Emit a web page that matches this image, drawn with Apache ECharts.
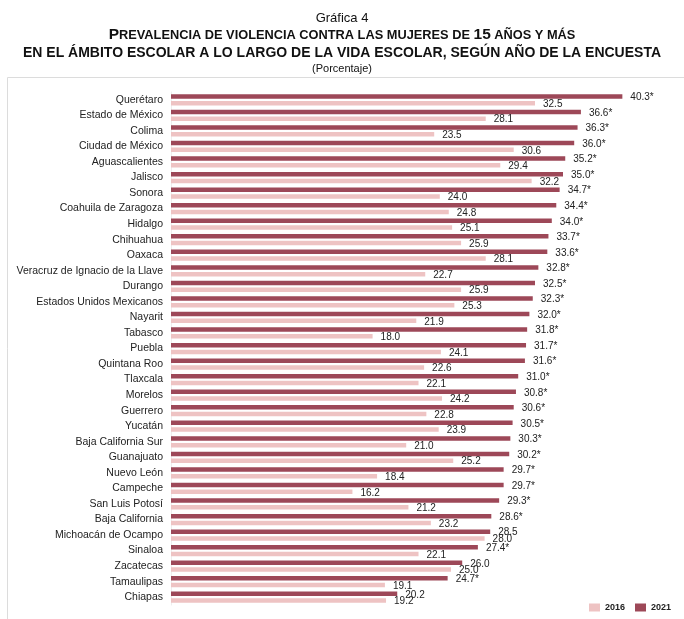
<!DOCTYPE html>
<html>
<head>
<meta charset="utf-8">
<script src="https://cdn.jsdelivr.net/npm/echarts@6/dist/echarts.min.js"></script>
<style>
html,body{margin:0;padding:0;background:#fff;}
#chart{width:684px;height:619px;}
</style>
</head>
<body>
<div id="chart"></div>
<script>
const categories = ["Querétaro","Estado de México","Colima","Ciudad de México","Aguascalientes","Jalisco","Sonora","Coahuila de Zaragoza","Hidalgo","Chihuahua","Oaxaca","Veracruz de Ignacio de la Llave","Durango","Estados Unidos Mexicanos","Nayarit","Tabasco","Puebla","Quintana Roo","Tlaxcala","Morelos","Guerrero","Yucatán","Baja California Sur","Guanajuato","Nuevo León","Campeche","San Luis Potosí","Baja California","Michoacán de Ocampo","Sinaloa","Zacatecas","Tamaulipas","Chiapas"];
const values2016 = [32.5,28.1,23.5,30.6,29.4,32.2,24.0,24.8,25.1,25.9,28.1,22.7,25.9,25.3,21.9,18.0,24.1,22.6,22.1,24.2,22.8,23.9,21.0,25.2,18.4,16.2,21.2,23.2,28.0,22.1,25.0,19.1,19.2];
const values2021 = [40.3,36.6,36.3,36.0,35.2,35.0,34.7,34.4,34.0,33.7,33.6,32.8,32.5,32.3,32.0,31.8,31.7,31.6,31.0,30.8,30.6,30.5,30.3,30.2,29.7,29.7,29.3,28.6,28.5,27.4,26.0,24.7,20.2];
const significant2021 = [1,1,1,1,1,1,1,1,1,1,1,1,1,1,1,1,1,1,1,1,1,1,1,1,1,1,1,1,0,1,0,1,0];
const seriesNames = ["2016","2021"];

const chart = echarts.init(document.getElementById('chart'), null, {renderer:'canvas'});
const FONT = '"Liberation Sans", Arial, sans-serif';
const option = {
  backgroundColor: '#fff',
  animation: false,
  graphic: [{
    type: 'rect', shape: {x: 7.5, y: 77.5, width: 700, height: 600},
    style: {fill: 'none', stroke: '#dcdcdc', lineWidth: 1}, silent: true
  }],
  title: [
    {text: 'Gráfica 4', left: 'center', top: 7, textStyle: {fontFamily: FONT, fontSize: 13, fontWeight: 'normal', color: '#111'}},
    {text: '{b|P}{s|REVALENCIA DE VIOLENCIA CONTRA LAS MUJERES DE }{b|15}{s| AÑOS Y MÁS}', left: 'center', top: 22,
     textStyle: {rich: {b: {fontFamily: FONT, fontSize: 15.5, fontWeight: 'bold', color: '#111'}, s: {fontFamily: FONT, fontSize: 12.8, fontWeight: 'bold', color: '#111'}}}},
    {text: 'EN EL ÁMBITO ESCOLAR A LO LARGO DE LA VIDA ESCOLAR, SEGÚN AÑO DE LA ENCUESTA', left: 'center', top: 41,
     textStyle: {fontFamily: FONT, fontSize: 14, fontWeight: 'bold', color: '#111'}},
    {text: '(Porcentaje)', left: 'center', top: 58, textStyle: {fontFamily: FONT, fontSize: 11, fontWeight: 'normal', color: '#111'}}
  ],
  legend: {
    data: seriesNames, left: 584, top: 598, itemWidth: 11, itemHeight: 8, itemGap: 10,
    textStyle: {fontFamily: FONT, fontSize: 9, fontWeight: 'bold', color: '#222'},
    icon: 'rect'
  },
  grid: {left: 171, right: 9, top: 92, bottom: 14, containLabel: false},
  xAxis: {type: 'value', min: 0, max: 45, show: false},
  yAxis: {
    type: 'category', data: categories, inverse: true,
    axisLine: {show: true, lineStyle: {color: '#eeeeee'}},
    axisTick: {show: false},
    axisLabel: {fontFamily: FONT, fontSize: 10.5, color: '#222', margin: 8}
  },
  series: [
    {name: '2021', type: 'bar', data: values2021, barWidth: 4.5, barGap: '50%',
     itemStyle: {color: '#9d4858'},
     label: {show: true, position: 'right', distance: 8, fontFamily: FONT, fontSize: 10, color: '#222', offset: [0, 1],
       formatter: p => p.value.toFixed(1) + (significant2021[p.dataIndex] ? '*' : '')}},
    {name: '2016', type: 'bar', data: values2016, barWidth: 4.5, barGap: '50%',
     itemStyle: {color: '#eec3c3'},
     label: {show: true, position: 'right', distance: 8, fontFamily: FONT, fontSize: 10, color: '#222', offset: [0, 1],
       formatter: p => p.value.toFixed(1)}}
  ]
};
chart.setOption(option);
</script>
</body>
</html>
